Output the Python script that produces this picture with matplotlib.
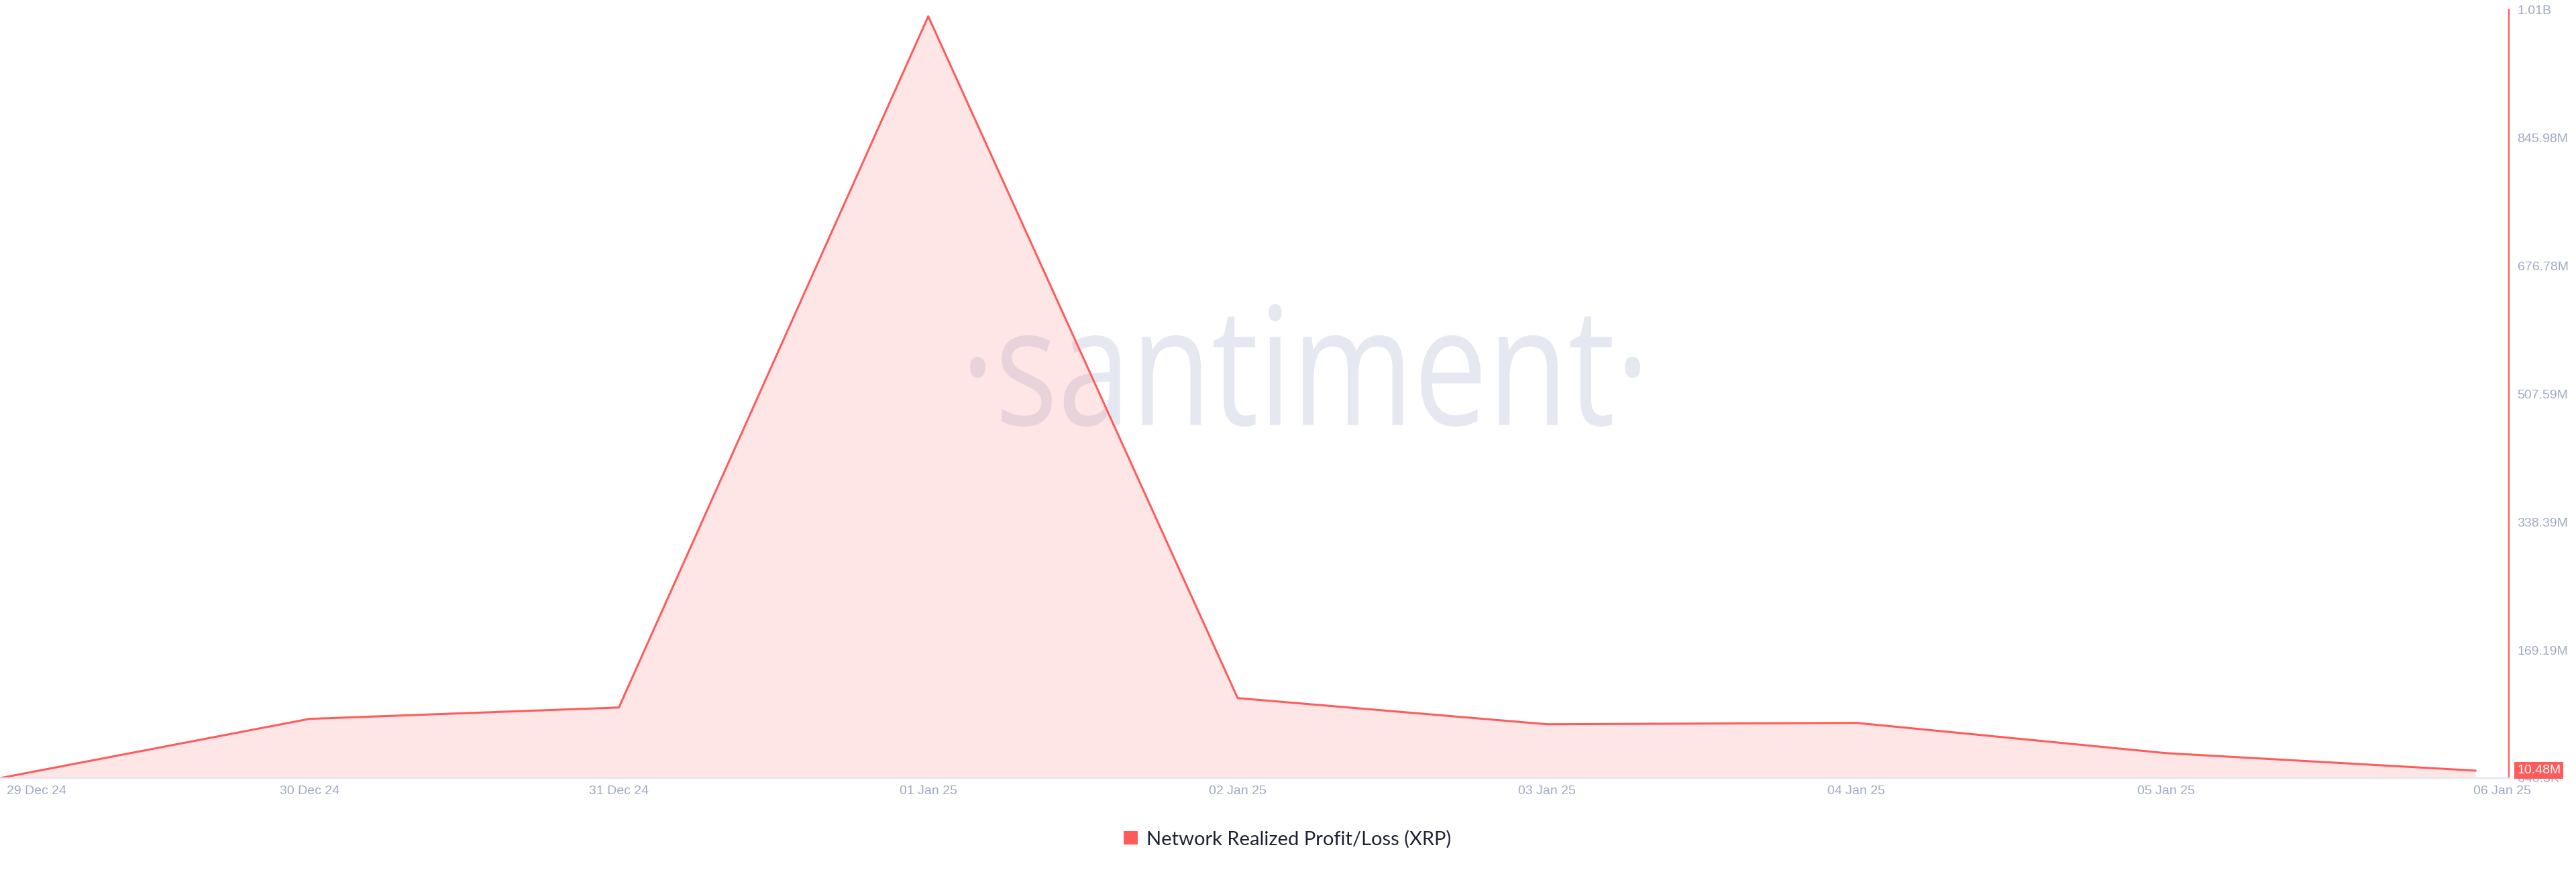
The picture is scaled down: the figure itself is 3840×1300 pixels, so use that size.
import matplotlib
matplotlib.use("Agg")
import matplotlib.pyplot as plt
import matplotlib.transforms as mtransforms
from matplotlib.patches import Patch, PathPatch
from matplotlib.textpath import TextPath
from matplotlib.font_manager import FontProperties

# data
dates = ['29 Dec 24', '30 Dec 24', '31 Dec 24', '01 Jan 25', '02 Jan 25',
         '03 Jan 25', '04 Jan 25', '05 Jan 25', '06 Jan 25']
nrpl = [0.64e6, 78.8e6, 93.8e6, 1006e6, 106.2e6, 71.7e6, 73.5e6, 33.6e6, 10.48e6]
ytick_vals = [0.6405e6, 169.19e6, 338.39e6, 507.59e6, 676.78e6, 845.98e6, 1015.17e6]
ytick_labels = ['640.5K', '169.19M', '338.39M', '507.59M', '676.78M', '845.98M', '1.01B']
last_label = '10.48M'
series_name = 'Network Realized Profit/Loss (XRP)'

RED = '#ff5b5b'
TICK = '#a0aac4'
W, H = 3840, 1300

fig = plt.figure(figsize=(W / 100, H / 100), dpi=100)
ax = fig.add_axes([0, 140 / H, 3740 / W, (1160 - 14) / H])
ax.set_facecolor('none')

x = list(range(len(dates)))

# watermark
tp = TextPath((0, 0), '\u00b7santiment\u00b7', size=100,
              prop=FontProperties(family='Open Sans'))
bb = tp.get_extents()
x0, x1 = 1446 / W, 2445 / W
y0, y1 = 1 - 636 / H, 1 - 453 / H
tr = (mtransforms.Affine2D().translate(-bb.x0, -bb.y0)
      .scale((x1 - x0) / bb.width, (y1 - y0) / bb.height)
      .translate(x0, y0) + fig.transFigure)
wm = PathPatch(tp, facecolor='#e5e8f1', edgecolor='none', transform=tr, zorder=0.5)
ax.add_patch(wm)

ax.fill_between(x, nrpl, ytick_vals[0], color=RED, alpha=0.15, lw=0, zorder=1)
ax.plot(x, nrpl, color=RED, lw=2.2, zorder=2)

ax.set_xlim(0, 3740 / 461.25)
ax.set_ylim(ytick_vals[0], ytick_vals[-1])

ax.yaxis.tick_right()
ax.set_yticks(ytick_vals)
ax.set_yticklabels(ytick_labels)
ax.set_xticks(x)
ax.set_xticklabels(dates)
ax.tick_params(axis='y', length=0, pad=9, labelsize=14, labelcolor=TICK)
ax.tick_params(axis='x', length=0, pad=8, labelsize=14, labelcolor=TICK)
for lab in ax.get_xticklabels() + ax.get_yticklabels():
    lab.set_fontfamily('Liberation Sans')

xl = ax.get_xticklabels()
xl[0].set_horizontalalignment('left')
xl[0].set_transform(xl[0].get_transform() + mtransforms.ScaledTranslation(10 / 100, 0, fig.dpi_scale_trans))
xl[-1].set_transform(xl[-1].get_transform() + mtransforms.ScaledTranslation(40 / 100, 0, fig.dpi_scale_trans))

for s in ['top', 'left']:
    ax.spines[s].set_visible(False)
ax.spines['right'].set_color(RED)
ax.spines['right'].set_linewidth(1.6)
ax.spines['bottom'].set_color('#e3e7ef')
ax.spines['bottom'].set_linewidth(1.6)

# last value marker on the axis
blend = mtransforms.blended_transform_factory(ax.transAxes, ax.transData)
ax.text(1.0, nrpl[-1], last_label, transform=blend + mtransforms.ScaledTranslation(12 / 100, 0, fig.dpi_scale_trans),
        ha='left', va='center', color='white', fontsize=14, family='Liberation Sans',
        bbox=dict(boxstyle='square,pad=0.2', fc=RED, ec='none'), clip_on=False, zorder=5)

fig.legend(handles=[Patch(facecolor=RED, edgecolor='none', label=series_name)],
           loc='center', bbox_to_anchor=(1919 / W, 1 - 1251 / H), frameon=False,
           handlelength=0.7, handleheight=0.7, handletextpad=0.45,
           prop={'family': 'Lato', 'size': 21}, labelcolor='#1f2233')

fig.savefig('out.png', dpi=100, facecolor='white')
